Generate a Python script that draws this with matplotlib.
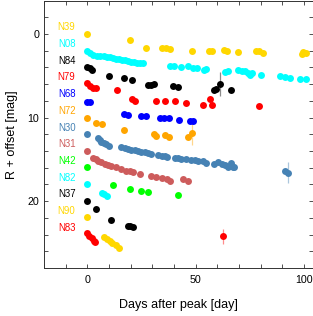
import matplotlib
matplotlib.use("Agg")
import matplotlib.pyplot as plt
import numpy as np
from matplotlib.ticker import MultipleLocator

plt.rcParams['font.family'] = ['Liberation Sans', 'DejaVu Sans']

# light curves: days after peak and R + offset
N39_DAY = [0, 19.9, 26.9, 34.7, 36.5, 38.4, 48.5, 56.3, 57.5, 63.1, 64.4, 69.4, 77.9, 79.2, 81.3, 99.1, 99.8, 100.9]
N39_MAG = [0, 0.7, 1.67, 1.63, 1.65, 1.75, 2.0, 2.0, 2.03, 1.87, 2.03, 2.19, 2.0, 2.07, 2.3, 2.38, 2.19, 2.3]

N08_DAY = [0, 1.4, 2.5, 4.3, 5.7, 7.5, 8.9, 10.3, 11.7, 13.1, 14.5, 15.9, 17.3, 18.7, 20.1, 21.4, 22.8, 24.2, 25.6,
           38.4, 40.0, 43.5, 46.6, 48.6, 50.5, 54.0, 54.6, 63.6, 65.1, 69.7, 71.3, 72.8, 74.4, 75.1, 76.2, 80.1,
           89.0, 91.3, 93.7, 98.0, 100.9]
N08_MAG = [2.05, 2.34, 2.5, 2.58, 2.62, 2.67, 2.70, 2.78, 2.85, 2.94, 2.97, 3.06, 3.14, 3.21, 3.30, 3.38, 3.42, 3.46, 3.46,
           3.81, 3.81, 3.98, 3.89, 4.05, 4.13, 4.37, 4.25, 4.52, 4.45, 4.37, 4.40, 4.49, 4.69, 4.96, 4.69, 4.96,
           5.08, 5.17, 5.29, 5.44, 5.40]

N84_DAY = [0, 1.1, 2.1, 10.0, 16.9, 20.8, 27.8, 29.3, 30.8, 39.5, 41.8, 58.5, 59.4, 61.3, 66.2]
N84_MAG = [3.98, 4.1, 4.29, 5.08, 5.24, 5.56, 6.15, 6.07, 6.0, 6.2, 6.36, 6.67, 6.6, 5.95, 6.75]

N79_DAY = [0, 1.1, 2.6, 4.2, 13.9, 20.8, 21.9, 31.8, 35.8, 40.7, 45.6, 53.5, 56.6, 57.5, 79.1]
N79_MAG = [5.92, 6.24, 6.45, 6.41, 6.67, 7.82, 8.04, 7.98, 7.98, 8.08, 8.26, 8.54, 7.78, 8.45, 8.6]

N68_DAY = [0, 1.3, 16.9, 18.8, 24.7, 26.9, 33.5, 35.6, 37.5, 42.5, 47.2, 48.6]
N68_MAG = [8.1, 8.2, 9.52, 9.73, 9.85, 9.85, 10.05, 10.08, 10.08, 10.28, 10.42, 10.42]

N72_DAY = [0, 4.0, 6.9, 16.9, 30.6, 31.9, 35.8, 37.7, 46.6, 48.4]
N72_MAG = [10.02, 10.62, 10.83, 11.51, 11.99, 12.2, 12.1, 12.3, 12.3, 11.83]

N30_DAY = [0, 4.9, 5.7, 6.5, 7.5, 8.5, 10.0, 15.7, 17.3, 18.8, 20.4, 21.9, 23.4, 25.0, 26.5, 28.1, 29.6,
           32.7, 34.3, 35.8, 36.9, 40.4, 42.0, 43.5, 45.8, 48.1, 49.7, 51.2, 53.5, 54.8, 58.5, 60.5, 62.0,
           63.6, 65.1, 66.2, 67.1, 67.9, 91.3, 92.5]
N30_MAG = [12.02, 12.5, 12.7, 12.9, 13.02, 13.21, 13.38, 13.5, 13.69, 13.81, 13.89, 13.89, 14.01, 14.1, 14.17,
           14.29, 14.4, 14.49, 14.57, 14.61, 14.73, 14.81, 14.88, 14.96, 15.0, 15.08, 15.08, 15.17, 15.17, 15.48,
           15.56, 15.29, 15.56, 15.68, 15.88, 15.48, 15.95, 15.88, 16.39, 16.58]

N31_DAY = [0, 2.6, 3.8, 4.9, 6.5, 8.0, 9.5, 11.1, 13.4, 15.7, 18.1, 19.6, 21.1, 24.2, 29.6, 31.9, 34.3, 36.6,
           38.4, 44.3, 46.6]
N31_MAG = [13.95, 14.85, 15.0, 15.15, 15.35, 15.5, 15.65, 15.8, 15.95, 16.15, 16.35, 16.45, 16.55, 16.75,
           17.0, 17.15, 17.25, 17.35, 17.6, 17.4, 17.65]

N42_DAY = [0, 12.0, 19.9, 24.8, 28.1, 41.7]
N42_MAG = [15.95, 18.04, 18.56, 18.76, 18.93, 19.25]

N82_DAY = [0, 6.7, 7.7, 8.9]
N82_MAG = [17.96, 19.02, 19.17, 19.33]

N37_DAY = [0, 4.0, 11.1, 18.6, 19.8, 21.0]
N37_MAG = [19.98, 20.92, 22.23, 22.92, 22.98, 23.06]

N90_DAY = [0, 7.7, 8.9, 10.3, 11.6, 13.2, 14.8]
N90_MAG = [21.9, 24.33, 24.5, 24.75, 24.98, 25.25, 25.55]

N83_DAY = [0, 0.9, 2.0, 3.0, 3.5, 62.5]
N83_MAG = [23.85, 24.15, 24.45, 24.8, 24.9, 24.21]

NAMES = ['N39', 'N08', 'N84', 'N79', 'N68', 'N72', 'N30', 'N31', 'N42', 'N82', 'N37', 'N90', 'N83']
COLORS = ['#FFD700', '#00FFFF', '#000000', '#FF0000', '#0000FF', '#FFA500', '#4682B4',
          '#CD5C5C', '#00FF00', '#00FFFF', '#000000', '#FFD700', '#FF0000']
DAYS = [N39_DAY, N08_DAY, N84_DAY, N79_DAY, N68_DAY, N72_DAY, N30_DAY, N31_DAY,
        N42_DAY, N82_DAY, N37_DAY, N90_DAY, N83_DAY]
MAGS = [N39_MAG, N08_MAG, N84_MAG, N79_MAG, N68_MAG, N72_MAG, N30_MAG, N31_MAG,
        N42_MAG, N82_MAG, N37_MAG, N90_MAG, N83_MAG]
LABEL_MAG = [-0.8 + 2 * i for i in range(len(NAMES))]

# the few points with visible error bars: (series, point index, error)
ERR_NAME = ['N84', 'N72', 'N30', 'N83']
ERR_INDEX = [13, 9, 39, 5]
ERR_SIZE = [1.45, 1.5, 1.3, 0.92]

fig = plt.figure(figsize=(3.13, 3.16), dpi=100)
ax = fig.add_axes([44 / 313, 48 / 316, 268.5 / 313, 267.5 / 316])

for name, color, d, m, ly in zip(NAMES, COLORS, DAYS, MAGS, LABEL_MAG):
    ax.plot(d, m, 'o', color=color, markersize=5.0, markeredgewidth=0, zorder=3)
    ax.text(-5.5, ly, name, color=color, fontsize=6.9, ha='right', va='center')
    if name in ERR_NAME:
        k = ERR_NAME.index(name)
        i = ERR_INDEX[k]
        ax.errorbar(d[i], m[i], yerr=ERR_SIZE[k], fmt='none', ecolor=color,
                    alpha=0.45, elinewidth=0.9, zorder=2)

ax.set_xlim(-20, 104)
ax.set_ylim(28, -4)
ax.xaxis.set_major_locator(MultipleLocator(50))
ax.xaxis.set_minor_locator(MultipleLocator(10))
ax.yaxis.set_major_locator(MultipleLocator(10))
ax.yaxis.set_minor_locator(MultipleLocator(2))
ax.tick_params(which='both', direction='in', top=True, right=True, length=3,
               width=0.6, labelsize=7.7, color='#333333')
ax.tick_params(axis='x', pad=5)
for s in ax.spines.values():
    s.set_linewidth(0.7)
    s.set_color('#333333')

ax.set_xlabel('Days after peak [day]', fontsize=9, labelpad=10)
ax.set_ylabel('R + offset [mag]', fontsize=9, labelpad=7)

fig.savefig('out.png', dpi=100, facecolor='white')
